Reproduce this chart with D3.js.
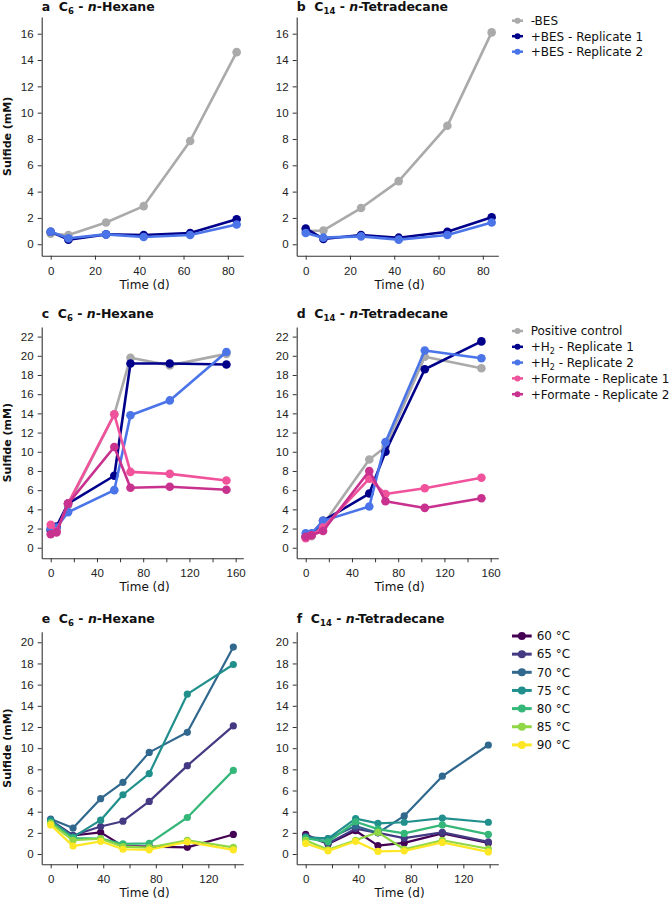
<!DOCTYPE html>
<html><head><meta charset="utf-8">
<script src="https://cdn.jsdelivr.net/npm/d3@7"></script>
<style>body{margin:0;background:#fff}text{white-space:pre}</style>
</head><body>
<svg id="c" width="670" height="900"></svg>
<script>
// ---------- data ----------
const timesA = [0, 8, 25, 42, 63, 84];
const timesB = [0, 8, 25, 42, 64, 84];
const aMinusBES = [0.8, 0.7, 1.65, 2.9, 7.85, 14.6];
const aBESRep1 = [0.95, 0.35, 0.75, 0.7, 0.85, 1.9];
const aBESRep2 = [0.95, 0.45, 0.75, 0.55, 0.7, 1.5];
const bMinusBES = [1.0, 1.05, 2.75, 4.8, 9.0, 16.1];
const bBESRep1 = [1.2, 0.4, 0.7, 0.5, 0.95, 2.05];
const bBESRep2 = [0.85, 0.5, 0.6, 0.35, 0.7, 1.65];

const timesCD = [0, 5, 15, 55, 69, 103, 152];
const cPositive = [2.0, 1.9, 4.4, 13.9, 19.8, 19.0, 20.2];
const cH2Rep1 = [1.8, 2.2, 4.6, 7.5, 19.2, 19.2, 19.1];
const cH2Rep2 = [2.0, 2.1, 3.7, 6.0, 13.8, 15.35, 20.4];
const cFormRep1 = [2.4, 1.7, 4.6, 13.9, 7.9, 7.7, 7.0];
const cFormRep2 = [1.4, 1.6, 4.6, 10.5, 6.25, 6.35, 6.05];
const dPositive = [1.2, 1.2, 2.4, 9.2, 10.5, 19.9, 18.7];
const dH2Rep1 = [1.15, 1.35, 2.8, 5.65, 10.0, 18.6, 21.5];
const dH2Rep2 = [1.5, 1.5, 2.8, 4.3, 11.0, 20.55, 19.75];
const dFormRep1 = [1.0, 1.3, 2.1, 7.2, 5.6, 6.2, 7.3];
const dFormRep2 = [1.15, 1.3, 1.75, 8.0, 4.85, 4.15, 5.15];

const timesEF = [0, 17, 38, 55, 75, 104, 139];
const e60 = [3.1, 1.75, 2.05, 0.75, 0.7, 0.63, 1.85];
const e65 = [3.2, 1.75, 2.6, 3.1, 4.97, 8.35, 12.1];
const e70 = [3.3, 2.45, 5.23, 6.77, 9.6, 11.5, 19.55];
const e75 = [3.15, 1.6, 3.2, 5.6, 7.6, 15.1, 17.9];
const e80 = [3.0, 1.5, 1.45, 0.95, 1.0, 3.45, 7.9];
const e85 = [2.9, 1.3, 1.45, 0.7, 0.6, 1.3, 0.63];
const e90 = [2.75, 0.75, 1.2, 0.45, 0.4, 1.15, 0.4];
const f60 = [1.85, 0.95, 2.2, 0.8, 1.05, 1.95, 1.05];
const f65 = [1.7, 1.0, 2.4, 2.0, 1.5, 2.05, 1.15];
const f70 = [1.6, 1.45, 2.65, 2.0, 3.6, 7.35, 10.3];
const f75 = [1.55, 1.45, 3.35, 2.9, 3.0, 3.4, 3.0];
const f80 = [1.5, 1.15, 3.05, 2.35, 1.95, 2.75, 1.85];
const f85 = [1.3, 0.4, 1.3, 2.05, 0.45, 1.3, 0.5];
const f90 = [1.0, 0.3, 1.2, 0.25, 0.3, 1.1, 0.2];

const besLabels = ["-BES", "+BES - Replicate 1", "+BES - Replicate 2"];
const donorLabels = [["Positive control"], ["+H", "2", " - Replicate 1"], ["+H", "2", " - Replicate 2"], ["+Formate - Replicate 1"], ["+Formate - Replicate 2"]];
const tempLabels = ["60 °C", "65 °C", "70 °C", "75 °C", "80 °C", "85 °C", "90 °C"];

const yTicksRow1 = d3.range(0, 17, 2);
const yTicksRow2 = d3.range(0, 23, 2);
const yTicksRow3 = d3.range(0, 21, 2);
const xTicksRow1 = [0, 20, 40, 60, 80];
const xTicksRow2 = [0, 20, 40, 60, 80, 100, 120, 140, 160];
const xTicksRow3 = [0, 20, 40, 60, 80, 100, 120, 140];

// ---------- styles ----------
const besColors = ["#aaaaaa", "#00008b", "#4a74e8"];
const donorColors = ["#aaaaaa", "#00008b", "#4a74e8", "#f0529c", "#c9318f"];
const tempColors = ["#440154", "#443a83", "#31688e", "#21908d", "#35b779", "#8fd744", "#fde725"];

const svg = d3.select("#c");
const TICKFONT = "Liberation Sans, Arial, sans-serif";
const DJ = "DejaVu Sans, sans-serif";

function drawPanel(o) {
  const x = d3.scaleLinear().domain(o.xDomain).range([o.x0, o.x1]);
  const y = d3.scaleLinear().domain(o.yDomain).range([o.y1, o.y0]);
  const g = svg.append("g");
  // axes
  const xa = g.append("g").attr("transform", `translate(0,${o.y1})`)
    .call(d3.axisBottom(x).tickValues(o.xTicks).tickSize(4).tickSizeOuter(0)
      .tickFormat(d => o.xLabelEvery && (d % o.xLabelEvery !== 0) ? "" : d));
  const ya = g.append("g").attr("transform", `translate(${o.x0},0)`)
    .call(d3.axisLeft(y).tickValues(o.yTicks).tickSize(4).tickSizeOuter(0));
  [xa, ya].forEach(a => {
    a.select(".domain").attr("stroke", "#333").attr("stroke-width", 1.1);
    a.selectAll(".tick line").attr("stroke", "#333");
    a.selectAll(".tick text").attr("font-family", TICKFONT).attr("font-size", 11.5).attr("fill", "#222");
  });
  xa.selectAll(".tick text").attr("dy", "1.05em");
  ya.selectAll(".tick text").attr("dx", "-0.1em");
  // axis titles
  g.append("text").attr("x", (o.x0 + o.x1) / 2 + 2).attr("y", o.y1 + 33)
    .attr("text-anchor", "middle").attr("font-family", DJ).attr("font-size", 12).attr("fill", "#111").text("Time (d)");
  if (o.yLabel) {
    g.append("text").attr("transform", `translate(11,${(o.y0 + o.y1) / 2}) rotate(-90)`)
      .attr("text-anchor", "middle").attr("font-family", DJ).attr("font-weight", "bold")
      .attr("font-size", 11).attr("fill", "#111").text("Sulfide (mM)");
  }
  // title
  const t = g.append("text").attr("x", o.x0).attr("y", o.titleY)
    .attr("font-family", DJ).attr("font-weight", "bold").attr("font-size", 12.5).attr("fill", "#111");
  t.append("tspan").text(o.letter + "  C");
  t.append("tspan").attr("font-size", 8.5).attr("dy", 3).text(o.sub);
  t.append("tspan").attr("dy", -3).text(" - ");
  t.append("tspan").attr("font-style", "italic").text("n");
  t.append("tspan").text("-" + o.name);
  // series
  const line = d3.line().x(d => x(d[0])).y(d => y(d[1]));
  o.series.forEach((s, i) => {
    const pts = o.times.map((tt, k) => [tt, s[k]]);
    g.append("path").datum(pts).attr("d", line).attr("fill", "none")
      .attr("stroke", o.colors[i]).attr("stroke-width", o.lw).attr("stroke-linejoin", "round");
    g.selectAll(null).data(pts).enter().append("circle")
      .attr("cx", d => x(d[0])).attr("cy", d => y(d[1])).attr("r", o.r).attr("fill", o.colors[i]);
  });
}

function drawLegend(o) {
  const g = svg.append("g");
  o.labels.forEach((lab, i) => {
    const cy = o.y + i * o.dy;
    g.append("line").attr("x1", o.lx0).attr("x2", o.lx1).attr("y1", cy).attr("y2", cy)
      .attr("stroke", o.colors[i]).attr("stroke-width", o.lw);
    g.append("circle").attr("cx", (o.lx0 + o.lx1) / 2).attr("cy", cy).attr("r", o.r).attr("fill", o.colors[i]);
    const t = g.append("text").attr("x", o.tx).attr("y", cy + 4.3)
      .attr("font-family", DJ).attr("font-size", 12).attr("fill", "#111");
    const parts = Array.isArray(lab) ? lab : [lab];
    if (parts.length === 1) t.text(parts[0]);
    else {
      t.append("tspan").text(parts[0]);
      t.append("tspan").attr("font-size", 8).attr("dy", 3).text(parts[1]);
      t.append("tspan").attr("dy", -3).text(parts[2]);
    }
  });
}

const L = [41.7, 243.3], R = [296.7, 498.3];
const rows = [
  { y0: 17, y1: 255.7, titleY: 11, yDomain: [-0.87, 17.27], yTicks: yTicksRow1, xTicks: xTicksRow1, xLabelEvery: 0, xDomain: [-4.07, 87.0], lw: 2.6, r: 4.3 },
  { y0: 327, y1: 558.3, titleY: 318, yDomain: [-1.1, 23.0], yTicks: yTicksRow2, xTicks: xTicksRow2, xLabelEvery: 40, xDomain: [-7.8, 166.6], lw: 2.6, r: 4.3 },
  { y0: 631.7, y1: 864.3, titleY: 623, yDomain: [-0.97, 21.0], yTicks: yTicksRow3, xTicks: xTicksRow3, xLabelEvery: 40, xDomain: [-6.85, 146.6], lw: 2.2, r: 3.6 }
];
const panels = [
  { row: 0, side: L, letter: "a", sub: "6", name: "Hexane", times: timesA, series: [aMinusBES, aBESRep1, aBESRep2], colors: besColors, yLabel: true },
  { row: 0, side: R, letter: "b", sub: "14", name: "Tetradecane", times: timesB, series: [bMinusBES, bBESRep1, bBESRep2], colors: besColors },
  { row: 1, side: L, letter: "c", sub: "6", name: "Hexane", times: timesCD, series: [cPositive, cH2Rep1, cH2Rep2, cFormRep1, cFormRep2], colors: donorColors, yLabel: true },
  { row: 1, side: R, letter: "d", sub: "14", name: "Tetradecane", times: timesCD, series: [dPositive, dH2Rep1, dH2Rep2, dFormRep1, dFormRep2], colors: donorColors },
  { row: 2, side: L, letter: "e", sub: "6", name: "Hexane", times: timesEF, series: [e60, e65, e70, e75, e80, e85, e90], colors: tempColors, yLabel: true },
  { row: 2, side: R, letter: "f", sub: "14", name: "Tetradecane", times: timesEF, series: [f60, f65, f70, f75, f80, f85, f90], colors: tempColors }
];
panels.forEach(p => drawPanel(Object.assign({}, rows[p.row], p, { x0: p.side[0], x1: p.side[1] })));

drawLegend({ labels: besLabels, colors: besColors, y: 20.7, dy: 15.5, lx0: 512, lx1: 523, tx: 530.7, lw: 2.5, r: 3 });
drawLegend({ labels: donorLabels, colors: donorColors, y: 331, dy: 15.8, lx0: 512, lx1: 523, tx: 530.7, lw: 2.5, r: 3 });
drawLegend({ labels: tempLabels, colors: tempColors, y: 636, dy: 18.15, lx0: 512, lx1: 531.7, tx: 536.7, lw: 3, r: 4 });
</script>
</body></html>
